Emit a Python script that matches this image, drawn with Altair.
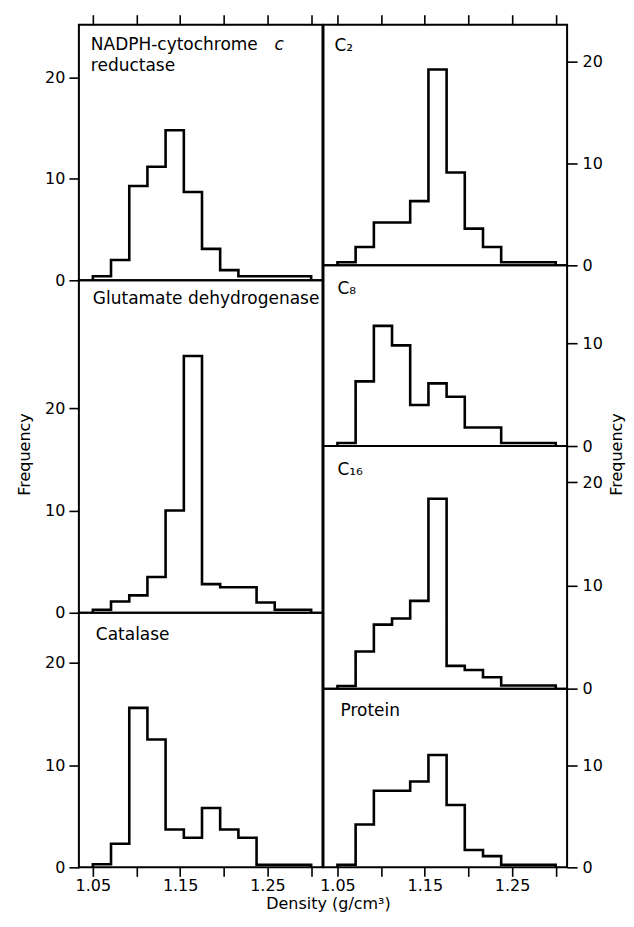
import altair as alt
import pandas as pd

# Bin edges (density, g/cm3): 12 equal bins from 1.05 to 1.30
edges = [1.05, 1.0708, 1.0917, 1.1125, 1.1333, 1.1542, 1.175,
         1.1958, 1.2167, 1.2375, 1.2583, 1.2792, 1.30]

# Frequencies per bin
nadph = [0.4, 2.0, 9.3, 11.2, 14.8, 8.7, 3.1, 1.0, 0.4, 0.4, 0.4, 0.4]
glutamate = [0.3, 1.1, 1.7, 3.5, 10.0, 25.1, 2.8, 2.5, 2.5, 1.0, 0.3, 0.3]
catalase = [0.3, 2.3, 15.6, 12.5, 3.7, 2.9, 5.8, 3.7, 2.9, 0.25, 0.25, 0.25]
c2 = [0.3, 1.8, 4.2, 4.2, 6.3, 19.2, 9.1, 3.6, 1.8, 0.3, 0.3, 0.3]
c8 = [0.3, 6.3, 11.7, 9.8, 4.0, 6.1, 4.8, 1.8, 1.8, 0.3, 0.3, 0.3]
c16 = [0.25, 3.6, 6.2, 6.8, 8.5, 18.4, 2.2, 1.8, 1.1, 0.3, 0.3, 0.3]
protein = [0.25, 4.2, 7.5, 7.5, 8.4, 11.0, 6.1, 1.7, 1.1, 0.25, 0.25, 0.25]

x_ticks = [1.05, 1.10, 1.15, 1.20, 1.25, 1.30]
x_labelled = ["1.05", "1.15", "1.25"]
y_ticks = [0, 10, 20]
x_title = "Density (g/cm³)"
y_title = "Frequency"

FONT = "DejaVu Sans"
X_DOMAIN = [1.034, 1.313]
W = 244
LABEL_EXPR = ("indexof(" + str(x_labelled) + ", format(datum.value, '.2f')) >= 0 "
              "? format(datum.value, '.2f') : ''")


def step_frame(vals):
    xs = [edges[0]] + edges[:12] + [edges[12], edges[12]]
    ys = [0] + vals + [vals[-1], 0]
    return pd.DataFrame({"density": xs, "freq": ys, "i": list(range(len(xs)))})


def panel(vals, ymax, h, labels, xaxis, yaxis):
    line = alt.Chart(step_frame(vals)).mark_line(
        interpolate="step-after", color="black", strokeWidth=2.6,
        strokeJoin="miter", clip=True
    ).encode(
        x=alt.X("density:Q", scale=alt.Scale(domain=X_DOMAIN, nice=False, zero=False), axis=xaxis),
        y=alt.Y("freq:Q", scale=alt.Scale(domain=[0, ymax], nice=False), axis=yaxis),
        order="i:Q",
    )
    layers = [line]
    for (txt, px, py, style) in labels:
        layers.append(
            alt.Chart(alt.Data(values=[{"t": txt}])).mark_text(
                align="left", baseline="alphabetic", font=FONT, fontSize=17,
                fontStyle=style, color="black"
            ).encode(text="t:N", x=alt.value(px), y=alt.value(py))
        )
    return alt.layer(*layers).properties(width=W, height=h)


top_x = alt.Axis(orient="top", values=x_ticks, labels=False, title=None,
                 tickSize=10, domain=False, grid=False)
bottom_x = alt.Axis(orient="bottom", values=x_ticks, tickSize=9, domain=False, grid=False,
                    labelExpr=LABEL_EXPR, labelPadding=1, title=None)


def left_y(title=None, ty=None):
    kw = dict(orient="left", values=y_ticks, tickSize=10, labelPadding=4, domain=False, grid=False)
    if title:
        kw.update(title=title, titleY=ty, titlePadding=12)
    else:
        kw.update(title=None)
    return alt.Axis(**kw)


def right_y(vals, title=None, ty=None):
    kw = dict(orient="right", values=vals, tickSize=10, labelPadding=5, domain=False, grid=False)
    if title:
        kw.update(title=title, titleY=ty, titleAngle=270, titleBaseline="top", titlePadding=6)
    else:
        kw.update(title=None)
    return alt.Axis(**kw)


left_col = alt.vconcat(
    panel(nadph, 25.2, 256,
          [("NADPH-cytochrome", 12, 25, "normal"), ("c", 196, 25, "italic"),
           ("reductase", 12, 46, "normal")],
          top_x, left_y()),
    panel(glutamate, 32.5, 333, [("Glutamate dehydrogenase", 14, 24, "normal")],
          None, left_y(y_title, 174)),
    panel(catalase, 24.9, 255, [("Catalase", 17, 27, "normal")],
          bottom_x, left_y()),
    spacing=0, bounds="flush",
)

right_col = alt.vconcat(
    panel(c2, 23.6, 241, [("C₂", 11, 26, "normal")], top_x, right_y([0, 10, 20])),
    panel(c8, 17.6, 181, [("C₈", 14, 29, "normal")], None, right_y([0, 10])),
    panel(c16, 23.5, 243, [("C₁₆", 14, 29, "normal")], None,
          right_y([0, 10, 20], y_title, 8)),
    panel(protein, 17.5, 179, [("Protein", 17, 27, "normal")], bottom_x, right_y([0, 10])),
    spacing=0, bounds="flush",
)

chart = alt.hconcat(left_col, right_col, spacing=-6).properties(
    background="white",
    padding={"left": 7, "top": 4, "right": 0, "bottom": 0},
    title=alt.TitleParams(text=x_title, orient="bottom", anchor="middle", dx=8,
                          font=FONT, fontSize=16, fontWeight="normal", color="black", offset=2),
).configure_view(
    stroke="black", strokeWidth=2
).configure_axis(
    labelFont=FONT, labelFontSize=16, labelColor="black",
    tickColor="black", tickWidth=1.6,
    titleFont=FONT, titleFontSize=16, titleFontWeight="normal", titleColor="black",
    labelFlush=False,
)

chart.save("out.html", embed_options={"renderer": "svg", "actions": False})
